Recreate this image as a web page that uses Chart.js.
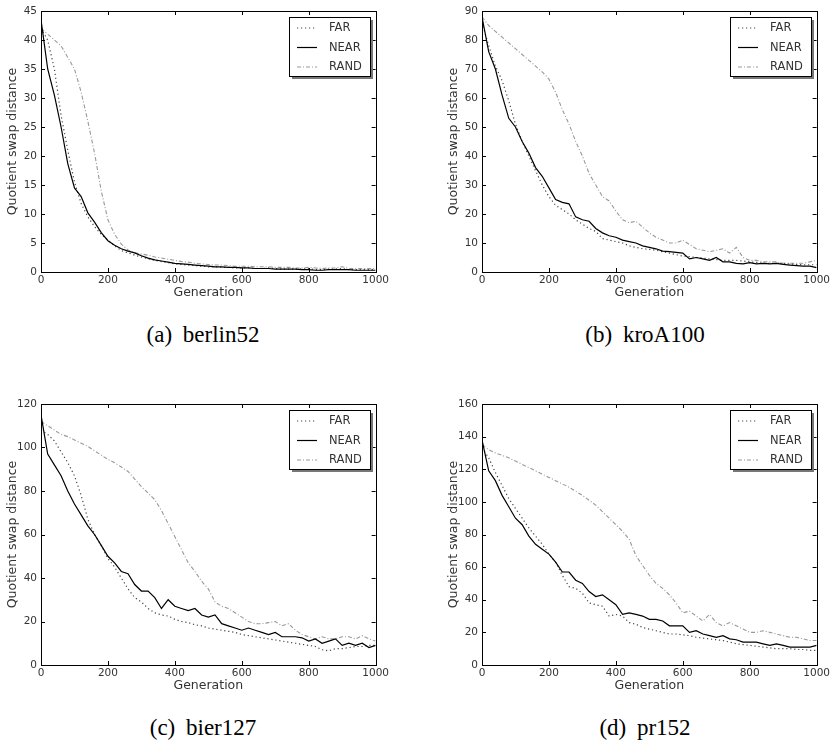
<!DOCTYPE html>
<html>
<head>
<meta charset="utf-8">
<script src="https://cdn.jsdelivr.net/npm/chart.js@4/dist/chart.umd.min.js"></script>
<style>
html, body { margin: 0; padding: 0; background: #fff; overflow: hidden; }
body { width: 832px; height: 742px; position: relative; }
canvas { position: absolute; }
.caption {
    position: absolute;
    font-family: "Liberation Serif", "Times New Roman", serif;
    font-size: 23px;
    line-height: 1;
    color: #000;
    white-space: nowrap;
    word-spacing: 5px;
    transform: translateX(-50%);
}
</style>
</head>
<body>
<canvas id="chartA" width="391" height="305" style="left:0;top:0"></canvas>
<canvas id="chartB" width="391" height="305" style="left:441px;top:0"></canvas>
<canvas id="chartC" width="391" height="305" style="left:0;top:393px"></canvas>
<canvas id="chartD" width="391" height="305" style="left:441px;top:393px"></canvas>
<div class="caption" style="left:203px;top:323px">(a) berlin52</div>
<div class="caption" style="left:645px;top:323px">(b) kroA100</div>
<div class="caption" style="left:203px;top:716px">(c) bier127</div>
<div class="caption" style="left:645px;top:716px">(d) pr152</div>
<script>
// Generaciones muestreadas (cada 20)
const GENERATIONS = [0, 20, 40, 60, 80, 100, 120, 140, 160, 180, 200, 220, 240, 260, 280, 300, 320, 340, 360, 380,
    400, 420, 440, 460, 480, 500, 520, 540, 560, 580, 600, 620, 640, 660, 680, 700, 720, 740, 760, 780,
    800, 820, 840, 860, 880, 900, 920, 940, 960, 980, 1000];
const SERIES_LABELS = ['FAR', 'NEAR', 'RAND'];
const X_TICKS = [0, 200, 400, 600, 800, 1000];

// (a) berlin52
const FAR_A = [42, 40, 35, 27, 21, 15.5, 11.8, 9.5, 7.8, 6.5, 5.5, 4.5, 3.7, 3.3, 2.9, 2.6, 2.3, 2.0, 1.8, 1.6,
    1.4, 1.3, 1.2, 1.1, 1.0, 0.9, 0.9, 0.8, 0.8, 0.7, 0.7, 0.7, 0.6, 0.6, 0.7, 0.6, 0.5, 0.5, 0.5, 0.5,
    0.6, 0.4, 0.4, 0.5, 0.5, 0.6, 0.4, 0.4, 0.4, 0.4, 0.4];
const NEAR_A = [43.5, 35, 30.5, 25, 18.7, 14.5, 13, 10.2, 8.6, 6.8, 5.4, 4.6, 4.0, 3.6, 3.3, 2.8, 2.4, 2.1, 1.9, 1.7,
    1.5, 1.4, 1.3, 1.2, 1.1, 1.0, 0.9, 0.9, 0.8, 0.8, 0.7, 0.7, 0.6, 0.6, 0.6, 0.5, 0.5, 0.5, 0.5, 0.4,
    0.4, 0.3, 0.3, 0.4, 0.4, 0.4, 0.4, 0.3, 0.3, 0.3, 0.3];
const RAND_A = [42, 41, 40, 39, 37, 35, 31, 26, 20.5, 14, 9, 6.5, 4.8, 3.8, 3.3, 3.1, 2.9, 2.6, 2.4, 2.2,
    2.0, 1.8, 1.7, 1.5, 1.4, 1.3, 1.2, 1.2, 1.1, 1.0, 1.0, 1.0, 0.9, 0.9, 0.9, 0.8, 0.8, 0.8, 0.7, 0.7,
    0.8, 0.7, 0.6, 0.7, 0.7, 0.9, 0.6, 0.6, 0.6, 0.6, 0.6];

// (b) kroA100
const FAR_B = [86, 78, 71, 66, 59, 51, 45, 40, 35, 30, 26, 23, 21.5, 20, 18, 16.5, 15, 14, 11.5, 11,
    10.5, 10, 9, 8.5, 8, 7.8, 7.5, 7, 6.5, 6, 5.5, 5.3, 5, 4.8, 4.5, 4.3, 4, 4, 4, 3.8,
    3.5, 3.3, 3, 3, 3, 3, 2.8, 2.6, 2.5, 2.5, 2.5];
const NEAR_B = [88, 76, 70, 61, 53, 50, 45, 41, 36, 33, 29, 25, 24, 23.5, 19, 18, 17.5, 15, 13.5, 12.5,
    12, 11, 10.5, 10, 9, 8.5, 8, 7.2, 7, 6.8, 6.5, 4.5, 5, 4.5, 4, 5, 3.5, 3.5, 3, 2.8,
    3.2, 2.8, 3, 2.8, 3, 2.6, 2.4, 2.2, 2, 2, 1.5];
const RAND_B = [88, 85, 83, 81, 79, 77, 75, 73, 71, 69, 66.5, 62, 56, 51, 45, 40, 34, 30, 26, 24.5,
    21, 18, 17, 17.5, 15.5, 13.5, 12, 11, 10, 10, 11, 9.5, 8, 7.5, 7, 7.5, 8, 6.5, 8.5, 5,
    4, 4, 3.5, 3.5, 3.5, 3, 3, 3, 3, 3.5, 4];

// (c) bier127
const FAR_C = [108, 106, 103, 98, 93, 87, 78, 67, 60, 55, 49, 45, 40, 35, 31, 29, 26, 24, 23, 22.5,
    21, 20, 19.5, 18.5, 18, 17, 16.5, 16, 15.5, 15, 14, 13.5, 13, 12.5, 12, 11.5, 11, 10.5, 10, 9.5,
    9, 8.5, 7, 6.5, 7.5, 7.5, 8, 8.5, 8.5, 9, 9];
const NEAR_C = [115, 97, 92, 87, 80, 74, 69, 64, 60, 55, 50, 47, 43, 42, 37, 34, 34, 31, 26, 30,
    27, 26, 25, 26, 23, 22, 23, 19, 18, 17, 16, 17, 16, 15, 14, 15, 13, 13, 13, 12.5,
    11, 12, 10, 11, 12, 9, 10, 9, 10, 8, 9];
const RAND_C = [112, 110, 108, 106, 105, 103.5, 102, 100.5, 98.5, 96.5, 94.5, 93, 91, 89, 85.5, 82, 79, 76, 71, 65,
    59, 53, 47, 43, 38.5, 35, 29, 27, 26, 24, 22, 20, 19, 19, 19.5, 20, 18, 19, 16, 14,
    13, 12, 13, 12, 12, 13, 13, 12, 13.5, 12, 11];

// (d) pr152
const FAR_D = [133, 127, 118, 110, 102, 96, 90, 84, 79, 74, 68, 63, 55, 48, 47, 44, 38, 37, 36, 30,
    31, 30, 26, 25, 23, 22, 21, 20, 19, 19, 18.5, 18, 17, 16.5, 16, 15.5, 15, 14, 13, 12.5,
    12, 11.5, 11, 10.5, 10, 10, 10, 9.5, 9.5, 9, 9];
const NEAR_D = [138, 119, 113, 104, 97, 90, 86, 79, 74, 71, 68, 63, 57, 57, 52, 50, 45, 42, 43, 40,
    37, 31, 32, 31, 30, 28, 28, 27, 24, 24, 24, 20, 21, 19, 18, 17, 18, 16, 15.5, 14,
    14, 14, 13, 12, 13, 12, 11, 11, 11, 11, 12];
const RAND_D = [135, 132, 130, 128.5, 127, 125, 123, 121, 119, 117, 115, 113, 111, 109, 106.5, 104, 101, 98, 94, 90,
    86, 82, 77, 67, 61, 55, 50, 47, 43, 38, 32, 33, 30, 27, 31, 26, 24, 26, 24, 22,
    20, 20, 21, 20, 19, 18, 17, 17, 16, 15, 15];

const Y_MAX = [45, 90, 120, 160];
const Y_STEP = [5, 10, 20, 20];

const FONT = 'DejaVu Sans';
const TEXT_COLOR = '#333';

// Marco, marcas hacia dentro y leyenda con sombra (estilo matplotlib)
const frameLegendPlugin = {
    id: 'frameLegend',
    afterDatasetsDraw(chart) {
        const { ctx, chartArea: a, scales: { x, y } } = chart;
        ctx.save();
        ctx.strokeStyle = '#000';
        ctx.lineWidth = 1;
        ctx.beginPath();
        x.ticks.forEach(t => {
            const px = Math.round(x.getPixelForValue(t.value)) + 0.5;
            ctx.moveTo(px, a.bottom); ctx.lineTo(px, a.bottom - 4);
            ctx.moveTo(px, a.top); ctx.lineTo(px, a.top + 4);
        });
        y.ticks.forEach(t => {
            const py = Math.round(y.getPixelForValue(t.value)) + 0.5;
            ctx.moveTo(a.left, py); ctx.lineTo(a.left + 4, py);
            ctx.moveTo(a.right, py); ctx.lineTo(a.right - 4, py);
        });
        ctx.stroke();
        ctx.strokeRect(Math.round(a.left) + 0.5, Math.round(a.top) + 0.5,
            Math.round(a.right - a.left), Math.round(a.bottom - a.top));

        // Leyenda
        const bw = 81, bh = 59;
        const bx = Math.round(a.right) - 6 - bw;
        const by = Math.round(a.top) + 6;
        ctx.fillStyle = '#777';
        ctx.fillRect(bx + 3, by + 3, bw, bh);
        ctx.fillStyle = '#fff';
        ctx.fillRect(bx, by, bw, bh);
        ctx.strokeRect(bx + 0.5, by + 0.5, bw, bh);
        ctx.font = '11.5px "' + FONT + '"';
        ctx.textBaseline = 'middle';
        chart.data.datasets.forEach((ds, i) => {
            const ly = by + 11 + i * 19.5;
            ctx.save();
            ctx.strokeStyle = ds.borderColor;
            ctx.lineWidth = ds.borderWidth;
            ctx.setLineDash(ds.borderDash || []);
            ctx.beginPath();
            ctx.moveTo(bx + 8, ly);
            ctx.lineTo(bx + 28, ly);
            ctx.stroke();
            ctx.restore();
            ctx.fillStyle = TEXT_COLOR;
            ctx.fillText(ds.label, bx + 40, ly + 0.5);
        });
        ctx.restore();
    }
};

function toPoints(values) {
    return GENERATIONS.map((g, i) => ({ x: g, y: values[i] }));
}

function makePanel(canvasId, far, near, rand, yMax, yStep) {
    const ctx = document.getElementById(canvasId).getContext('2d');
    return new Chart(ctx, {
        type: 'line',
        data: {
            datasets: [{
                label: SERIES_LABELS[0],
                data: toPoints(far),
                borderColor: '#444',
                borderWidth: 1.2,
                borderDash: [1.2, 2.8],
                pointRadius: 0,
                order: 2
            }, {
                label: SERIES_LABELS[1],
                data: toPoints(near),
                borderColor: '#000',
                borderWidth: 1.2,
                pointRadius: 0,
                order: 1
            }, {
                label: SERIES_LABELS[2],
                data: toPoints(rand),
                borderColor: '#999',
                borderWidth: 1.1,
                borderDash: [4, 2, 1, 2],
                pointRadius: 0,
                order: 3
            }]
        },
        options: {
            responsive: false,
            animation: false,
            devicePixelRatio: 1,
            layout: { padding: { top: 11, right: 14, left: 0, bottom: 0 } },
            plugins: {
                legend: { display: false },
                tooltip: { enabled: false }
            },
            scales: {
                x: {
                    type: 'linear',
                    min: 0,
                    max: 1000,
                    afterBuildTicks: (scale) => { scale.ticks = X_TICKS.map(v => ({ value: v })); },
                    ticks: {
                        padding: 2,
                        autoSkip: false,
                        maxRotation: 0,
                        color: TEXT_COLOR,
                        font: { family: FONT, size: 10.5 },
                        callback: (v) => String(v)
                    },
                    grid: { display: false, drawTicks: false },
                    border: { display: false },
                    title: {
                        display: true,
                        text: 'Generation',
                        color: TEXT_COLOR,
                        font: { family: FONT, size: 12.5 },
                        padding: { top: 0, bottom: 5 }
                    },
                    afterFit: (scale) => { scale.height = 33; }
                },
                y: {
                    min: 0,
                    max: yMax,
                    ticks: {
                        stepSize: yStep,
                        padding: 4,
                        autoSkip: false,
                        color: TEXT_COLOR,
                        font: { family: FONT, size: 10.5 },
                        callback: (v) => String(v)
                    },
                    grid: { display: false, drawTicks: false },
                    border: { display: false },
                    title: {
                        display: true,
                        text: 'Quotient swap distance',
                        color: TEXT_COLOR,
                        font: { family: FONT, size: 12.5 },
                        padding: { top: 5, bottom: 0 }
                    },
                    afterFit: (scale) => { scale.width = 41; }
                }
            }
        },
        plugins: [frameLegendPlugin]
    });
}

makePanel('chartA', FAR_A, NEAR_A, RAND_A, Y_MAX[0], Y_STEP[0]);
makePanel('chartB', FAR_B, NEAR_B, RAND_B, Y_MAX[1], Y_STEP[1]);
makePanel('chartC', FAR_C, NEAR_C, RAND_C, Y_MAX[2], Y_STEP[2]);
makePanel('chartD', FAR_D, NEAR_D, RAND_D, Y_MAX[3], Y_STEP[3]);
</script>
</body>
</html>
